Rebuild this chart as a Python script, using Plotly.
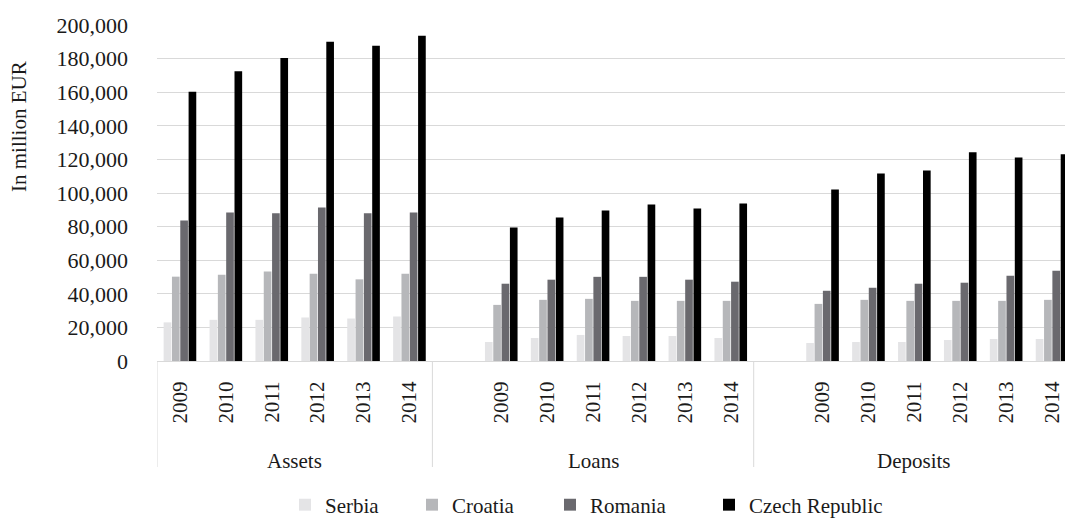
import plotly.graph_objects as go

# ---- data ----
groups = ["Assets", "Loans", "Deposits"]
years = ["2009", "2010", "2011", "2012", "2013", "2014"]
countries = ["Serbia", "Croatia", "Romania", "Czech Republic"]

# values in million EUR: Assets 2009-2014, Loans 2009-2014, Deposits 2009-2014
serbia = [23000, 24500, 24500, 25900, 25300, 26500,
          11300, 13700, 15500, 14900, 14900, 13700,
          10700, 11300, 11300, 12500, 13100, 13100]
croatia = [50200, 51300, 53300, 52000, 48600, 52000,
           33400, 36400, 37000, 35800, 35800, 35800,
           34000, 36400, 35800, 35800, 35800, 36400]
romania = [83600, 88400, 87900, 91300, 87900, 88400,
           46000, 48400, 50100, 50100, 48400, 47200,
           41800, 43600, 46000, 46600, 50700, 53700]
czech = [160200, 172500, 180300, 190000, 187700, 193600,
         79400, 85400, 89600, 93100, 90700, 93700,
         102100, 111600, 113400, 124200, 121200, 123000]

series = [serbia, croatia, romania, czech]
colors = ["#E4E4E6", "#B6B7BA", "#6A696E", "#000000"]

# category positions: each group after the first has one empty slot before it
slot = len(years) + 1
xpos = [g * slot + i for g in range(len(groups)) for i in range(len(years))]
ticktext = [y for g in groups for y in years]

FONT = "Liberation Serif"
TXT = "#1a1a1a"
W, H = 1065, 522
ML, MT, MB = 157, 25, 161
plot_h = H - MT - MB

fig = go.Figure()
legend_names = ["legend", "legend2", "legend3", "legend4"]
for name, vals, col, lg in zip(countries, series, colors, legend_names):
    fig.add_trace(go.Bar(
        x=xpos, y=vals, name=name,
        marker=dict(color=col, line=dict(width=0)),
        legend=lg,
    ))

# group divider lines and group labels
bounds = [-0.5] + [g * slot + len(years) - 0.5 for g in range(len(groups))]
def py(px):
    return (H - MB - px) / plot_h

shapes = []
for b in bounds:
    shapes.append(dict(type="line", xref="x", yref="paper", x0=b, x1=b,
                       y0=0, y1=py(467), line=dict(color="#D9D9D9", width=1)))
annotations = []
for g, name in enumerate(groups):
    lo = g * slot - (0.5 if g == 0 else 1.5)
    hi = g * slot + len(years) - 0.5
    annotations.append(dict(text=name, x=(lo + hi) / 2, xref="x", y=py(461), yref="paper",
                            showarrow=False, xanchor="center", yanchor="middle",
                            font=dict(family=FONT, size=21, color=TXT)))
annotations.append(dict(text="In million EUR", x=(19 - ML) / (W - ML), xref="paper",
                        y=py(127), yref="paper", textangle=-90, showarrow=False,
                        xanchor="center", yanchor="middle",
                        font=dict(family=FONT, size=21, color=TXT)))

cat_w = 45.9
xmax = -0.5 + (W - ML) / cat_w

legend_text_x = [325, 452, 590, 749]
legend_layout = {}
for lg, tx in zip(legend_names, legend_text_x):
    legend_layout[lg] = dict(
        x=(tx - 40 - ML) / (W - ML), xanchor="left", xref="paper",
        y=py(505), yanchor="middle", orientation="h",
        bgcolor="rgba(0,0,0,0)", borderwidth=0,
        font=dict(family=FONT, size=21, color=TXT),
    )

fig.update_layout(
    width=W, height=H,
    margin=dict(l=ML, r=0, t=MT, b=MB, autoexpand=False),
    paper_bgcolor="white", plot_bgcolor="white",
    barmode="group", bargap=0.275, bargroupgap=0.08,
    font=dict(family=FONT, size=21, color=TXT),
    xaxis=dict(
        range=[-0.5, xmax], tickmode="array", tickvals=xpos, ticktext=ticktext,
        tickangle=-90, showgrid=False, showline=True, linecolor="#D9D9D9", linewidth=1,
        ticks="", ticklabelstandoff=11, zeroline=False, automargin=False,
        tickfont=dict(family=FONT, size=21, color=TXT),
    ),
    yaxis=dict(
        range=[0, 200000], tickmode="linear", tick0=0, dtick=20000,
        tickformat=",d", showgrid=True, gridcolor="#D9D9D9", gridwidth=1,
        showline=False, zeroline=False, ticks="", ticklabelstandoff=28,
        automargin=False,
        tickfont=dict(family=FONT, size=22, color=TXT),
    ),
    shapes=shapes, annotations=annotations,
    showlegend=True,
    **legend_layout,
)

fig.write_html(
    "out.html",
    config={"displayModeBar": False},
    post_script="document.body.style.margin='0';document.body.style.overflow='hidden';",
)
